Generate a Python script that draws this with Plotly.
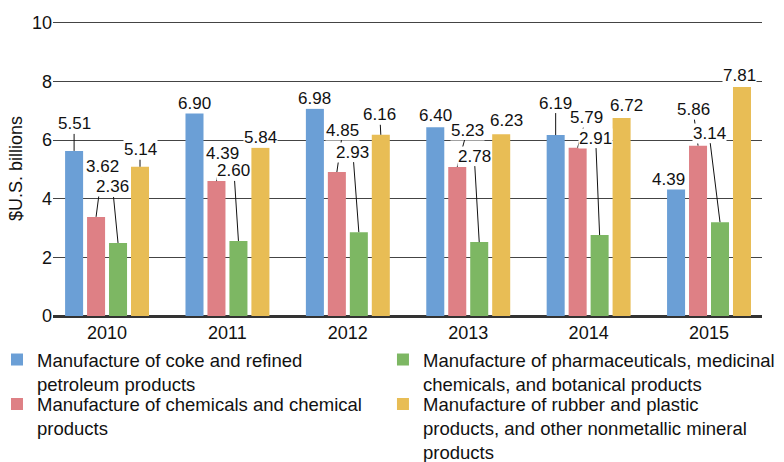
import plotly.graph_objects as go

years = ["2010", "2011", "2012", "2013", "2014", "2015"]
series_names = [
    "Manufacture of coke and refined<br>petroleum products",
    "Manufacture of chemicals and chemical<br>products",
    "Manufacture of pharmaceuticals, medicinal<br>chemicals, and botanical products",
    "Manufacture of rubber and plastic<br>products, and other nonmetallic mineral<br>products",
]
# bar heights as drawn
coke = [5.63, 6.92, 7.07, 6.44, 6.17, 4.33]
chem = [3.38, 4.60, 4.91, 5.08, 5.74, 5.81]
pharma = [2.49, 2.56, 2.86, 2.52, 2.76, 3.20]
rubber = [5.09, 5.74, 6.18, 6.20, 6.75, 7.81]
# value labels as printed
coke_lbl = ["5.51", "6.90", "6.98", "6.40", "6.19", "4.39"]
chem_lbl = ["3.62", "4.39", "4.85", "5.23", "5.79", "5.86"]
pharma_lbl = ["2.36", "2.60", "2.93", "2.78", "2.91", "3.14"]
rubber_lbl = ["5.14", "5.84", "6.16", "6.23", "6.72", "7.81"]

colors = ["#6B9FD6", "#DE8085", "#7DB763", "#E8BD55"]
values = [coke, chem, pharma, rubber]
labels = [coke_lbl, chem_lbl, pharma_lbl, rubber_lbl]
legend_ids = ["legend", "legend2", "legend3", "legend4"]
# legend placement (paper coords)
legend_x = [-0.079, -0.079, 0.4654, 0.4654]
legend_y = [-0.0847, -0.2356, -0.0847, -0.2356]

# label placement offsets (px) relative to bar top, and leader-line flags
dx = [[0, 0, 0, 0, 0, -8],
      [6.5, 6.5, 6, 10, 8.5, -5],
      [-5.5, -4.5, -6, -5, -4, -11],
      [0, 0, -1, 5, 5, -2]]
dy = [[-27, -10, -10, -12, -32, -10],
      [-50, -28, -42, -37, -30, -36],
      [-56, -70, -80, -86, -97, -89],
      [-17, -10, -20, -14, -13, -11]]
leader = [[1, 0, 0, 0, 1, 0],
          [1, 1, 1, 1, 1, 1],
          [1, 1, 1, 1, 1, 1],
          [1, 0, 1, 0, 0, 0]]

FONT = "Liberation Sans, Arial, Helvetica, sans-serif"
bargap = 0.27

fig = go.Figure()
for k in range(4):
    fig.add_trace(go.Bar(
        x=years, y=values[k], name=series_names[k],
        marker=dict(color=colors[k], line=dict(width=0)),
        legend=legend_ids[k], hoverinfo="skip",
    ))

annotations = []
for k in range(4):
    off = (k - 1.5) * (1 - bargap) / 4
    for i in range(len(years)):
        annotations.append(dict(
            x=i + off, y=values[k][i], xref="x", yref="y",
            text=labels[k][i], showarrow=True, arrowhead=0, arrowwidth=1,
            arrowcolor="#111" if leader[k][i] else "rgba(0,0,0,0)",
            ax=dx[k][i], ay=dy[k][i], standoff=0,
            font=dict(family=FONT, size=17, color="#111"),
            bgcolor="white", borderpad=0,
        ))

legend_style = dict(
    orientation="v", yanchor="top", xanchor="left", valign="top",
    traceorder="normal", bgcolor="rgba(0,0,0,0)",
    font=dict(family=FONT, size=18.5, color="#111"),
    itemclick=False, itemdoubleclick=False,
)
legends = {lid: dict(x=legend_x[k], y=legend_y[k], **legend_style)
           for k, lid in enumerate(legend_ids)}

fig.update_layout(
    width=784, height=462,
    margin=dict(l=53, r=22, t=21, b=146, autoexpand=False),
    paper_bgcolor="white", plot_bgcolor="white",
    barmode="group", bargap=bargap, bargroupgap=0.18,
    font=dict(family=FONT, size=18, color="#111"),
    annotations=annotations,
    showlegend=True,
    **legends,
    xaxis=dict(
        type="category", range=[-0.449, 5.44],
        showgrid=False, showline=True, linecolor="#333", linewidth=1.5,
        ticks="", tickfont=dict(family=FONT, size=18, color="#111"),
    ),
    yaxis=dict(
        range=[0, 10.06], tickvals=[0, 2, 4, 6, 8, 10], showgrid=True,
        gridcolor="#444", gridwidth=1,
        zeroline=True, zerolinecolor="#333", zerolinewidth=1.5,
        ticks="", tickfont=dict(family=FONT, size=18, color="#111"),
        title=dict(text="$U.S. billions", font=dict(family=FONT, size=18, color="#111"), standoff=4),
    ),
)

fig.write_html("out.html")
